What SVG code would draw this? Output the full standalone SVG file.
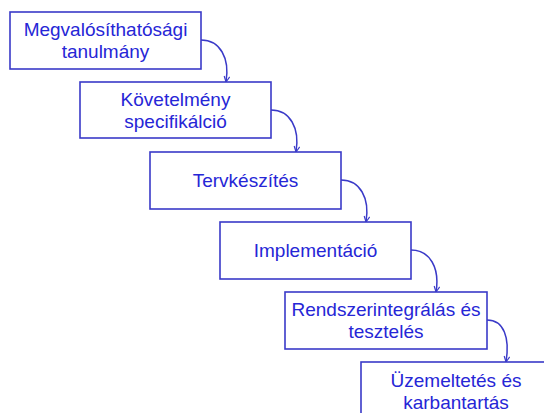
<svg xmlns="http://www.w3.org/2000/svg" width="544" height="413" viewBox="0 0 544 413">
<style>
.box{fill:#ffffff;stroke:#3a3ac8;stroke-width:1.6}
.t{font-family:"Liberation Sans",Arial,sans-serif;font-size:19px;fill:#2626d6;text-anchor:middle}
.c{fill:none;stroke:#3a3ac8;stroke-width:1.5}
</style>
<defs>
<marker id="ah" viewBox="0 0 10 10" refX="9" refY="5" markerWidth="7" markerHeight="7" orient="auto" markerUnits="userSpaceOnUse">
<path d="M1,1 L9,5 L1,9" fill="none" stroke="#3a3ac8" stroke-width="1.6"/>
</marker>
</defs>
<rect width="544" height="413" fill="#ffffff"/>
<g id="connectors">
<path class="c" marker-end="url(#ah)" d="M201,40 C220,40 230,58 226,82"/>
<path class="c" marker-end="url(#ah)" d="M271,110 C290,110 300,128 296,152"/>
<path class="c" marker-end="url(#ah)" d="M341,180 C360,180 370,198 366,222"/>
<path class="c" marker-end="url(#ah)" d="M411,250 C430,250 440,268 436,292"/>
<path class="c" marker-end="url(#ah)" d="M487,320 C504,320 510,338 506,362"/>
</g>
<g id="n1"><rect class="box" x="10" y="12" width="191" height="57"/>
<text class="t" x="105.5" y="36">Megvalósíthatósági</text><text class="t" x="105.5" y="58">tanulmány</text></g>
<g id="n2"><rect class="box" x="80" y="82" width="191" height="56"/>
<text class="t" x="175.5" y="106">Követelmény</text><text class="t" x="175.5" y="128">specifikálció</text></g>
<g id="n3"><rect class="box" x="150" y="152" width="191" height="57"/>
<text class="t" x="245.5" y="187">Tervkészítés</text></g>
<g id="n4"><rect class="box" x="220" y="222" width="191" height="57"/>
<text class="t" x="315.5" y="257">Implementáció</text></g>
<g id="n5"><rect class="box" x="285" y="292" width="202" height="57"/>
<text class="t" x="386" y="316">Rendszerintegrálás és</text><text class="t" x="386" y="338">tesztelés</text></g>
<g id="n6"><rect class="box" x="361" y="362" width="192" height="60"/>
<text class="t" x="456" y="387">Üzemeltetés és</text><text class="t" x="456" y="409">karbantartás</text></g>
</svg>
